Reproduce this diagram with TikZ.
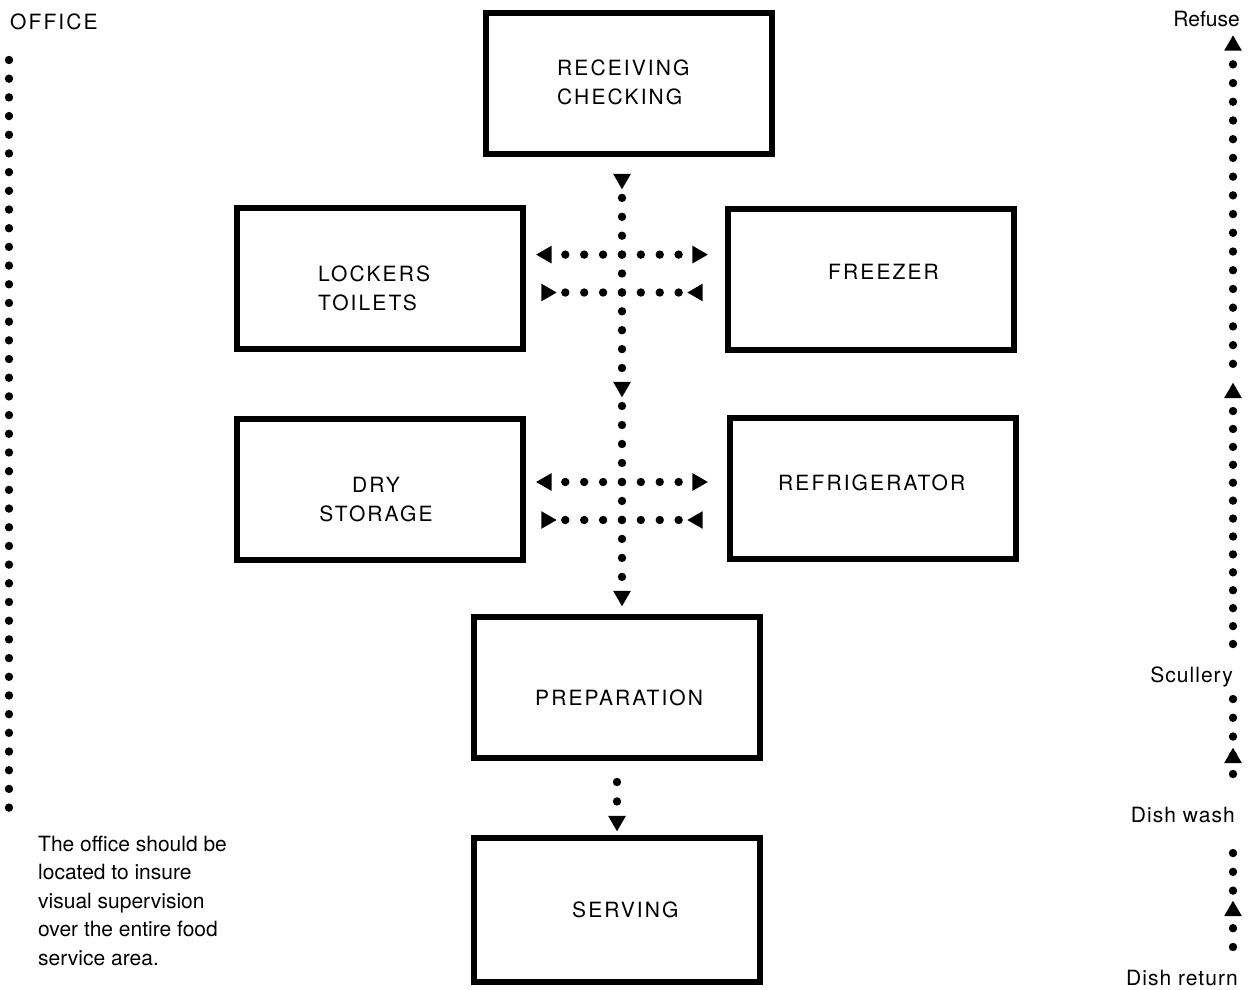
\documentclass[tikz,border=0pt]{standalone}
\usepackage{fontspec}
\setmainfont{TeX Gyre Heros}
\newfontfamily\spacedfont[LetterSpace=10]{TeX Gyre Heros}
\newfontfamily\lightspaced[LetterSpace=5]{TeX Gyre Heros}
\usetikzlibrary{shapes.geometric}
\begin{document}
\begin{tikzpicture}[x=1pt,y=-1pt,
  box/.style={draw=black, line width=6pt, rectangle, inner sep=0pt, minimum width=286pt, minimum height=141pt},
  boxtext/.style={inner sep=0pt, font=\spacedfont\fontsize{21}{29}\selectfont, align=left},
  lbl/.style={inner sep=0pt, font=\fontsize{21}{28.5}\selectfont},
  slbl/.style={inner sep=0pt, font=\lightspaced\fontsize{21}{28.5}\selectfont},
  tri/.style={regular polygon, regular polygon sides=3, fill=black, draw=none, inner sep=0pt, minimum size=20.5pt},
  tdown/.style={tri, shape border rotate=180},
  tup/.style={tri},
  tleft/.style={tri, shape border rotate=90},
  tright/.style={tri, shape border rotate=-90},
  dotline/.style={line width=8.4pt, line cap=round, dash pattern=on 0pt off #1},
]
\useasboundingbox (0,0) rectangle (1248,990);
\fill[white] (0,0) rectangle (1248,990);

% boxes
\node[box] (rec)  at (629,83.5)  {};
\node[box] (lock) at (379.5,278.5) {};
\node[box] (frz)  at (871,279.5) {};
\node[box] (dry)  at (380,489.5) {};
\node[box] (ref)  at (873,488.5) {};
\node[box] (prep) at (617,687) {};
\node[box, minimum height=144pt] (serv) at (617,910) {};

% box texts
\node[boxtext, anchor=north west] (rectxt)  at (557,59.5)  {RECEIVING\\CHECKING};
\node[boxtext, anchor=north west] (locktxt) at (318,265.5) {LOCKERS\\TOILETS};
\node[boxtext, anchor=west]       (frztxt)  at (828,272)   {FREEZER};
\node[boxtext, anchor=north, align=center] (drytxt) at (376,476.5) {DRY\\STORAGE};
\node[boxtext, anchor=west]       (reftxt)  at (778,483)   {REFRIGERATOR};
\node[boxtext, anchor=west]       (preptxt) at (535,698)   {PREPARATION};
\node[boxtext, anchor=west]       (servtxt) at (572,910)   {SERVING};

% left side
\node[boxtext, anchor=west] (office) at (10,22) {OFFICE};
\node[lbl, anchor=north west, align=left] (note) at (38,835.5)
  {The office should be\\located to insure\\visual supervision\\over the entire food\\service area.};
\coordinate (o1) at (9,60);
\coordinate (o2) at (9,808);
\draw[dotline=18.69pt] (o1) -- (o2);

% central vertical flow
\node[tdown] (v1) at (622,179) {};
\node[tdown] (v2) at (622,387) {};
\node[tdown] (v3) at (622,596) {};
\draw[dotline=18.9pt] (v1.center) -- (v2.center);
\draw[dotline=18.99pt] (v2.center) -- (v3.center);

% horizontal exchanges
\node[tleft]  (a1l) at (546.4,254.6) {};
\node[tright] (a1r) at (697.6,254.6) {};
\node[tright] (a2l) at (546.4,292.5) {};
\node[tleft]  (a2r) at (697.6,292.5) {};
\node[tleft]  (a3l) at (546.4,482) {};
\node[tright] (a3r) at (697.6,482) {};
\node[tright] (a4l) at (546.4,520) {};
\node[tleft]  (a4r) at (697.6,520) {};
\draw[dotline=18.89pt] (a1l.center) -- (a1r.center);
\draw[dotline=18.89pt] (a2l.center) -- (a2r.center);
\draw[dotline=18.89pt] (a3l.center) -- (a3r.center);
\draw[dotline=18.89pt] (a4l.center) -- (a4r.center);

% preparation to serving
\coordinate (ps) at (617,782);
\node[tdown] (v4) at (617,821) {};
\draw[dotline=19.45pt] (ps) -- (v4.center);

% right column
\node[lbl, anchor=base east]  (refuse) at (1240,27)  {Refuse};
\node[slbl, anchor=base east] (scull)  at (1233,682) {Scullery};
\node[slbl, anchor=base east] (dwash)  at (1235,822) {Dish wash};
\node[slbl, anchor=base east] (dret)   at (1238,985) {Dish return};

\coordinate (ra1) at (1233,947);
\coordinate (ra2) at (1233,853);
\draw[dotline=18.79pt] (ra1) -- (ra2);
\node[tup] (ta1) at (1233,911) {};

\coordinate (rb1) at (1233,774);
\coordinate (rb2) at (1233,699);
\draw[dotline=18.74pt] (rb1) -- (rb2);
\node[tup] (tb1) at (1233,758) {};

\node[tup] (tc1) at (1233,45.6) {};
\coordinate (rc1) at (1233,382);
\draw[dotline=18.72pt] (tc1.center) -- (rc1);
\node[tup] (tc2) at (1233,393) {};
\coordinate (rc2) at (1233,644);
\draw[dotline=17.92pt] (rc2) -- (tc2.center);
\end{tikzpicture}
\end{document}
